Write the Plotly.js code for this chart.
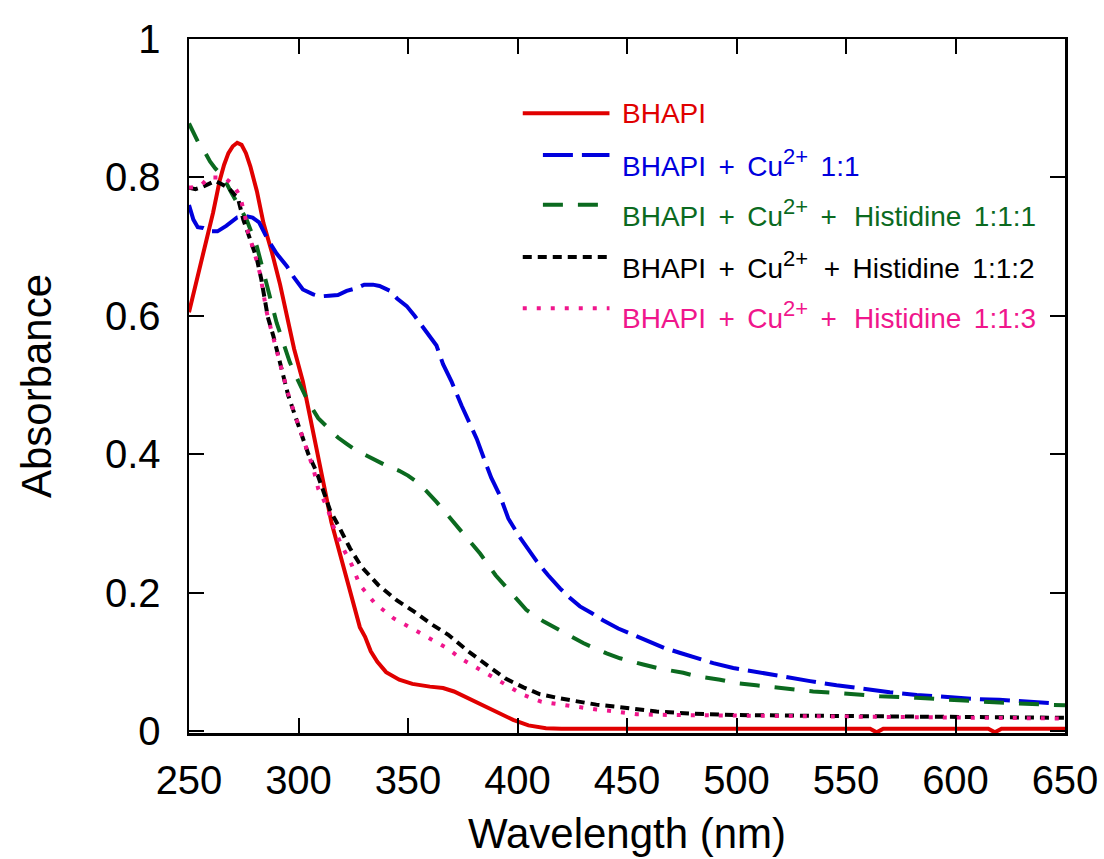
<!DOCTYPE html>
<html>
<head>
<meta charset="utf-8">
<script src="https://cdn.plot.ly/plotly-3.0.1.min.js"></script>
<style>html,body{margin:0;padding:0;background:#fff;}#chart{width:1104px;height:859px;}</style>
</head>
<body>
<div id="chart"></div>
<script>
// ---- data ----
const seriesNames = [
  "BHAPI",
  "BHAPI + Cu<sup>2+</sup> 1:1",
  "BHAPI + Cu<sup>2+</sup> + Histidine 1:1:1",
  "BHAPI + Cu<sup>2+</sup> &nbsp;+ Histidine 1:1:2",
  "BHAPI + Cu<sup>2+</sup> + Histidine 1:1:3"
];

const bhapiX = [250,252,255,258,261,264,266,268,270,272,274,276,278,281,284,288,291.6,295,298,302,305,307.5,311.3,315,319,322.7,325.8,328,330.4,333,336,340,346,352,360,366,371,377,383,390,398,405,413,420,450,500,550,561,564,567,600,615,618,621,650];
const bhapiY = [0.605,0.63,0.672,0.71,0.749,0.795,0.818,0.835,0.845,0.85,0.847,0.835,0.816,0.78,0.734,0.69,0.645,0.595,0.552,0.505,0.46,0.422,0.36,0.302,0.254,0.211,0.172,0.15,0.136,0.115,0.1,0.085,0.074,0.068,0.064,0.062,0.057,0.048,0.038,0.028,0.016,0.008,0.004,0.003,0.003,0.003,0.003,0.003,-0.002,0.003,0.003,0.003,-0.002,0.003,0.003];

const cuX = [250,252,254,256.5,260,263,267,270,272,276,279,282,286,290,294.6,298,302,306.7,310,314,318,322,326.6,330,334,337,341.8,345,349.4,353,357,360,363,366,370,374.5,378,381.4,385,388,392,395.8,401,405,408.8,414,419.4,424,428.5,434,439,446,452.9,460,467,474,481,489.4,498.5,510.7,524.4,533.6,545.7,559.4,570,582.3,597.5,610,620,632.5,645];
const cuY = [0.76,0.739,0.728,0.727,0.722,0.722,0.73,0.738,0.742,0.744,0.742,0.735,0.71,0.69,0.672,0.655,0.638,0.631,0.628,0.629,0.63,0.636,0.64,0.645,0.645,0.643,0.636,0.625,0.614,0.6,0.583,0.57,0.557,0.53,0.504,0.47,0.445,0.422,0.391,0.366,0.34,0.307,0.28,0.262,0.245,0.225,0.206,0.192,0.18,0.17,0.16,0.148,0.139,0.129,0.12,0.113,0.106,0.098,0.091,0.084,0.076,0.072,0.066,0.06,0.056,0.052,0.048,0.046,0.045,0.042,0.04];

const his1X = [250,252,254,257,259.6,262,265.7,269,273,276.3,281,285.5,290,291.6,294,296,300,304.5,309,314.4,318,322,326,331,337,341,346,350,354,358,363,369,376.8,383,390,395.8,400,404,412,422.5,430,440.7,446.8,457.4,465,475.7,481.8,492.5,500,509,518,526,535,545.7,565.5,582,600.5,620,641.6,650];
const his1Y = [0.878,0.865,0.852,0.838,0.823,0.813,0.8,0.78,0.758,0.739,0.7,0.643,0.59,0.575,0.55,0.533,0.505,0.475,0.452,0.434,0.424,0.415,0.406,0.398,0.388,0.382,0.376,0.369,0.36,0.348,0.331,0.309,0.28,0.256,0.225,0.204,0.19,0.175,0.158,0.139,0.127,0.112,0.105,0.096,0.09,0.084,0.079,0.074,0.069,0.066,0.063,0.06,0.057,0.055,0.05,0.048,0.044,0.041,0.038,0.037];

const his2X = [250,253,256,259,262,265,268,270,272.5,274.8,277.9,281,283,284.7,286,288.5,290.5,293,295.3,298.4,301.5,304.5,308.3,311.3,314.4,319,323.5,328.8,336.4,344.8,353,360.8,368.4,377.5,386.7,394.3,402.7,410.3,419.4,428.5,436,445,454.5,463.5,480,500,530,560,600,650];
const his2Y = [0.785,0.783,0.786,0.79,0.795,0.79,0.785,0.778,0.768,0.739,0.71,0.682,0.653,0.624,0.598,0.571,0.545,0.513,0.485,0.456,0.427,0.4,0.374,0.345,0.319,0.292,0.264,0.237,0.211,0.189,0.172,0.154,0.139,0.115,0.093,0.076,0.063,0.053,0.047,0.042,0.038,0.035,0.031,0.028,0.025,0.023,0.022,0.021,0.02,0.019];

const his3X = [250,253,256,259,262,266,268,270,272,273.3,275.6,277,280,282.5,284,285.5,287.5,290,292.5,295,298,301,303.7,306.8,309,313,316,319.7,324.3,328,335,343.3,352.4,360,367.6,375,384.4,393.5,402.7,411,419.4,428.5,436,445,454.5,470,500,550,600,650];
const his3Y = [0.785,0.786,0.79,0.8,0.8,0.8,0.795,0.79,0.78,0.773,0.744,0.72,0.69,0.66,0.632,0.605,0.58,0.55,0.518,0.49,0.46,0.432,0.41,0.379,0.35,0.324,0.295,0.268,0.24,0.211,0.184,0.163,0.147,0.133,0.12,0.103,0.086,0.069,0.052,0.042,0.038,0.034,0.031,0.028,0.024,0.023,0.022,0.021,0.02,0.018];

const xTicks = [250,300,350,400,450,500,550,600,650];
const yTicks = [0,0.2,0.4,0.6,0.8,1];
const yTickText = ["0","0.2","0.4","0.6","0.8","1"];

// ---- styling ----
const colors = ["#e00000","#0000dd","#0b6a1f","#000000","#f0168c"];
const dashes = ["solid","30px,9px","20px,15px","9px,6px","4px,10px"];
const xs = [bhapiX,cuX,his1X,his2X,his3X];
const ys = [bhapiY,cuY,his1Y,his2Y,his3Y];
const FONT = "Arial, 'Liberation Sans', sans-serif";

const traces = xs.map((x,i)=>({
  x: x, y: ys[i], type:"scatter", mode:"lines", name: seriesNames[i],
  line:{color:colors[i], width:4, dash:dashes[i]}, showlegend:false
}));

// manual legend (paper coordinates)
const legLineY = [0.893,0.833,0.761,0.686,0.612];
const legLineX0 = [0.381,0.404,0.404,0.381,0.381];
const legTextY = [0.892,0.822,0.750,0.675,0.603];
const shapes = [];
const annotations = [];
for (let i=0;i<5;i++){
  shapes.push({type:"line", xref:"paper", yref:"paper", x0:legLineX0[i], x1:0.48, y0:legLineY[i], y1:legLineY[i],
    line:{color:colors[i], width:4, dash:dashes[i]}});
  const label = seriesNames[i]
    .replace("<sup>2+</sup>", "<sup><span style=\"font-size:22px\">2+</span></sup>")
    .replace(/ \+ /g, " &#8198;+&#8198; ")
    .replace(/ (Histidine|1:1)/g, " &#8198;$1");
  annotations.push({xref:"paper", yref:"paper", x:0.492, y:legTextY[i], xanchor:"left", yanchor:"middle",
    text: label, showarrow:false, font:{family:FONT, size:28, color:colors[i]}});
}

const layout = {
  width:1104, height:859,
  margin:{l:189, r:39, t:39, b:126},
  paper_bgcolor:"#fff", plot_bgcolor:"#fff",
  font:{family:FONT, color:"#000"},
  showlegend:false,
  xaxis:{
    range:[250,650], tickvals:xTicks, ticktext:xTicks.map(String),
    ticks:"inside", ticklen:15, tickwidth:2, tickcolor:"#000",
    showline:true, linecolor:"#000", linewidth:2.5, mirror:"allticks",
    showgrid:false, zeroline:false,
    tickfont:{family:FONT, size:40, color:"#000"}, ticklabelstandoff:10,
    title:{text:"Wavelength (nm)", font:{family:FONT, size:42, color:"#000"}, standoff:18}
  },
  yaxis:{
    range:[-0.003,1], tickvals:yTicks, ticktext:yTickText,
    ticks:"inside", ticklen:15, tickwidth:2, tickcolor:"#000",
    showline:true, linecolor:"#000", linewidth:2.5, mirror:"allticks",
    showgrid:false, zeroline:false,
    tickfont:{family:FONT, size:40, color:"#000"}, ticklabelstandoff:18,
    title:{text:"Absorbance", font:{family:FONT, size:42, color:"#000"}, standoff:40}
  },
  shapes: shapes,
  annotations: annotations
};

Plotly.newPlot("chart", traces, layout, {displayModeBar:false, staticPlot:true});
</script>
</body>
</html>
